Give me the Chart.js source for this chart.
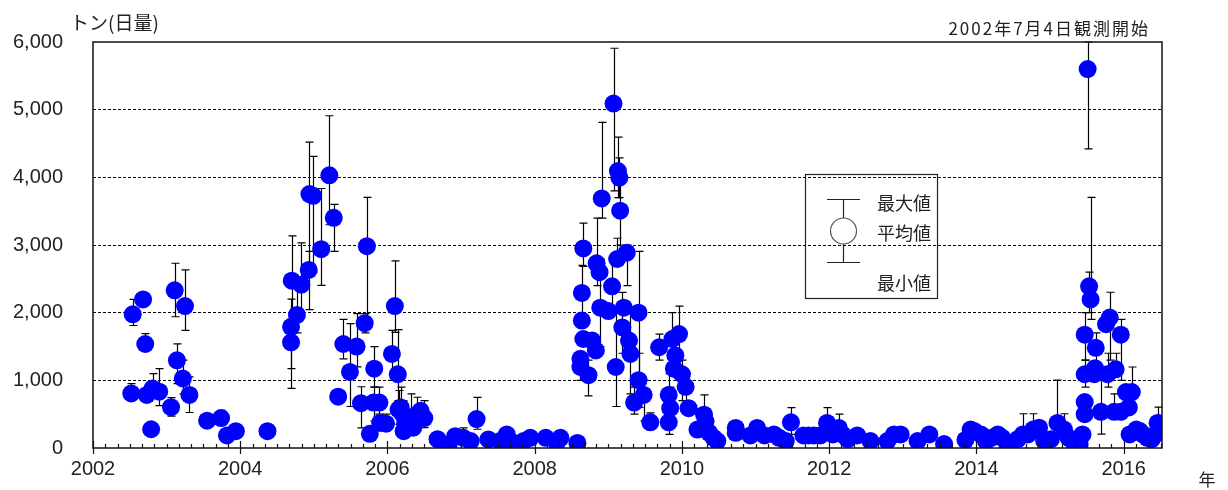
<!DOCTYPE html>
<html lang="ja">
<head>
<meta charset="UTF-8">
<title>二酸化硫黄放出量</title>
<script src="https://cdn.jsdelivr.net/npm/chart.js"></script>
<style>
  html, body { margin: 0; padding: 0; background: #fff; }
  #wrap { width: 1228px; height: 490px; position: relative; }
</style>
</head>
<body>
<div id="wrap"><canvas id="so2Chart"></canvas></div>
<script>
// [年, 平均値, 最小値, 最大値]  (null = バーなし)
const obs2002 = [
  [2002.52, 807, 720, 950], [2002.54, 1975, 1810, 2195], [2002.68, 2195, null, null],
  [2002.71, 1537, 1440, 1690], [2002.73, 784, null, null], [2002.79, 277, null, null],
  [2002.81, 880, 780, 1100], [2002.90, 832, 627, 1172], [2003.06, 603, 470, 745],
  [2003.11, 2331, 1940, 2730], [2003.14, 1295, 950, 1540], [2003.22, 1027, 800, 1300],
  [2003.25, 2097, 1737, 2632], [2003.31, 784, 525, 1051], [2003.55, 404, null, null],
  [2003.74, 443, 350, 555], [2003.82, 185, null, null], [2003.94, 248, null, null],
  [2004.37, 248, null, null]
];
const obs2004 = [
  [2004.69, 1562, 880, 1800], [2004.69, 1791, 1172, 2200], [2004.70, 2472, 1900, 3134],
  [2004.77, 1966, 1700, 2450], [2004.83, 2414, 2000, 3032], [2004.93, 2632, 2044, 2905],
  [2004.94, 3752, 2700, 4521], [2004.99, 3727, 2600, 4311], [2005.10, 2939, 2404, 3835],
  [2005.21, 4029, 3299, 4910], [2005.27, 3401, 2905, 3600], [2005.33, 759, null, null],
  [2005.40, 1537, 1318, 1902], [2005.49, 1124, 613, 1839], [2005.58, 1499, 1200, 1985],
  [2005.64, 662, 297, 905], [2005.69, 1844, 1700, 1985], [2005.72, 2983, 1900, 3703],
  [2005.76, 209, null, null], [2005.81, 672, 400, 900], [2005.82, 1172, 900, 1499],
  [2005.89, 672, 500, 900], [2005.90, 370, null, null], [2005.98, 360, 250, 500],
  [2006.06, 1391, 1000, 1738], [2006.10, 2097, 1708, 2764], [2006.14, 1090, 700, 1750],
  [2006.15, 569, 350, 850], [2006.18, 600, 400, 900], [2006.21, 496, 300, 700],
  [2006.22, 248, 150, 400], [2006.24, 370, null, null], [2006.28, 350, 200, 550],
  [2006.32, 443, 250, 800], [2006.35, 300, null, null], [2006.40, 496, 300, 750],
  [2006.45, 550, null, null], [2006.50, 443, 300, 700]
];
const obs2006 = [
  [2006.68, 131, null, null], [2006.83, 51, null, null], [2006.92, 175, null, null],
  [2007.03, 150, 80, 297], [2007.13, 102, null, null], [2007.21, 428, 277, 749],
  [2007.37, 127, null, null], [2007.53, 102, null, null], [2007.62, 200, 100, 300],
  [2007.67, 100, null, null], [2007.85, 102, null, null], [2007.94, 150, null, null],
  [2008.15, 150, null, null], [2008.30, 80, null, null], [2008.35, 150, null, null],
  [2008.58, 75, null, null]
];
const obs2008 = [
  [2008.62, 1318, null, null], [2008.62, 1197, 1000, 1400], [2008.64, 1883, null, null],
  [2008.64, 2292, 1800, 2700], [2008.66, 2949, 2682, 3324], [2008.66, 1611, null, null],
  [2008.73, 1076, 769, 1300], [2008.78, 1587, null, null], [2008.83, 1441, null, null],
  [2008.84, 2730, 2400, 3397], [2008.88, 2598, null, null], [2008.89, 2073, 1500, 2800],
  [2008.91, 3689, 3397, 4813], [2009.00, 2024, null, null], [2009.05, 2389, 2000, 2800],
  [2009.07, 5090, 3800, 5908], [2009.10, 1197, 613, 2000], [2009.12, 2793, null, 3100],
  [2009.13, 4092, 3700, 4594], [2009.15, 3995, 3700, 4289], [2009.16, 3508, 3000, 4000],
  [2009.19, 1781, 1400, 2300], [2009.21, 2073, null, null], [2009.25, 2886, 2400, 3000],
  [2009.28, 1587, null, null], [2009.30, 1391, 800, 2000], [2009.35, 672, 500, 900],
  [2009.41, 2000, 1100, 2905], [2009.41, 1003, 600, 1400], [2009.48, 784, 400, 1000],
  [2009.57, 380, 300, 520], [2009.69, 1489, 1300, 1683], [2009.82, 380, 200, 800],
  [2009.82, 784, 600, 1100], [2009.84, 589, 400, 900], [2009.87, 1611, 1100, 2000],
  [2009.89, 1172, null, null], [2009.91, 1368, null, null], [2009.96, 1683, 1000, 2097],
  [2010.00, 1090, 700, 1300], [2010.05, 905, 600, 1100], [2010.09, 589, null, null],
  [2010.21, 273, null, null], [2010.30, 492, 250, 784], [2010.32, 394, null, null],
  [2010.37, 224, null, null], [2010.43, 150, null, null], [2010.48, 102, null, null]
];
const obs2010 = [
  [2010.73, 224, null, null], [2010.73, 297, null, null], [2010.93, 185, null, null],
  [2011.02, 297, null, null], [2011.12, 185, null, null], [2011.25, 200, null, null],
  [2011.32, 150, null, null], [2011.41, 102, null, null], [2011.48, 380, 200, 598],
  [2011.65, 185, null, null], [2011.72, 185, null, null], [2011.79, 185, null, null],
  [2011.88, 185, null, null], [2011.97, 370, 250, 598], [2012.05, 200, null, null],
  [2012.13, 297, 200, 501], [2012.18, 200, null, null], [2012.25, 131, null, null],
  [2012.38, 185, null, null], [2012.56, 102, null, null], [2012.79, 102, null, null],
  [2012.88, 200, null, null], [2012.97, 200, null, null], [2013.20, 102, null, null],
  [2013.36, 200, null, null], [2013.56, 58, null, null]
];
const obs2014 = [
  [2013.85, 120, null, null], [2013.92, 273, null, null], [2013.97, 250, null, null],
  [2014.06, 200, null, null], [2014.13, 100, null, null], [2014.20, 150, null, null],
  [2014.29, 200, null, null], [2014.35, 150, null, null], [2014.42, 58, null, null],
  [2014.56, 131, null, null], [2014.63, 200, null, 506], [2014.70, 200, null, null],
  [2014.77, 273, null, 506], [2014.85, 300, null, null], [2014.92, 102, null, null],
  [2015.01, 131, null, null], [2015.10, 370, 150, 1003], [2015.19, 273, null, 506],
  [2015.25, 150, null, null], [2015.31, 102, null, null], [2015.40, 58, null, null],
  [2015.44, 200, null, null], [2015.47, 500, null, null], [2015.47, 679, null, null],
  [2015.47, 1090, 900, 1300], [2015.47, 1675, 1300, 2000], [2015.51, 5600, 4420, 6000],
  [2015.53, 2390, 2000, 2600], [2015.55, 2195, 1900, 3703], [2015.60, 1090, null, null],
  [2015.61, 1180, null, null], [2015.62, 1480, 1200, 1700], [2015.69, 535, 204, 1003],
  [2015.76, 1830, null, null], [2015.78, 1090, 900, 1400], [2015.81, 1927, 1300, 2302],
  [2015.87, 535, null, 800], [2015.89, 1163, null, 1400], [2015.96, 1675, 1000, 1900],
  [2015.96, 535, null, null], [2016.03, 827, null, null], [2016.07, 600, null, null],
  [2016.08, 200, null, null], [2016.11, 827, null, 1197], [2016.17, 273, null, null],
  [2016.22, 250, null, null], [2016.26, 200, null, null], [2016.32, 150, null, null],
  [2016.38, 131, null, null], [2016.43, 200, null, null], [2016.46, 370, null, 603]
];

const yearTicks = [2002, 2004, 2006, 2008, 2010, 2012, 2014, 2016];
const tonTicks = [0, 1000, 2000, 3000, 4000, 5000, 6000];

const allObs = [].concat(obs2002, obs2004, obs2006, obs2008, obs2010, obs2014);

const jpFont = '"Noto Sans CJK JP", sans-serif';

// 最大値・最小値のひげ
const errorBars = {
  id: 'errorBars',
  beforeDatasetsDraw(chart) {
    const { ctx, scales: { x, y } } = chart;
    ctx.save();
    ctx.strokeStyle = '#000';
    ctx.lineWidth = 1.2;
    allObs.forEach(r => {
      if (r[2] == null && r[3] == null) return;
      const px = Math.round(x.getPixelForValue(r[0])) + 0.5;
      const lo = y.getPixelForValue(r[2] != null ? r[2] : r[1]);
      const hi = y.getPixelForValue(r[3] != null ? r[3] : r[1]);
      ctx.beginPath();
      ctx.moveTo(px, lo);
      ctx.lineTo(px, hi);
      if (r[2] != null) { ctx.moveTo(px - 4, lo); ctx.lineTo(px + 4, lo); }
      if (r[3] != null) { ctx.moveTo(px - 4, hi); ctx.lineTo(px + 4, hi); }
      ctx.stroke();
    });
    ctx.restore();
  }
};

// 枠・目盛・注記・凡例
const frameAndNotes = {
  id: 'frameAndNotes',
  afterDraw(chart) {
    const { ctx, chartArea: a, scales: { x } } = chart;
    ctx.save();
    ctx.strokeStyle = '#111';
    ctx.lineWidth = 1.5;
    ctx.strokeRect(a.left, a.top, a.right - a.left, a.bottom - a.top);

    // 2か月ごとの目盛
    ctx.lineWidth = 1.2;
    ctx.beginPath();
    for (let i = 0; i <= 87; i++) {
      const v = 2002 + i / 6;
      const px = Math.round(x.getPixelForValue(v)) + 0.5;
      if (i % 12 === 0) {
        ctx.moveTo(px, a.bottom - 7);
        ctx.lineTo(px, a.bottom + 6);
      } else {
        ctx.moveTo(px, a.bottom - 4);
        ctx.lineTo(px, a.bottom);
      }
    }
    ctx.stroke();

    ctx.fillStyle = '#222';
    ctx.textBaseline = 'middle';
    ctx.font = '19px ' + jpFont;
    ctx.textAlign = 'left';
    ctx.fillText('トン(日量)', 70, 23);

    ctx.font = '17px ' + jpFont;
    ctx.letterSpacing = '2px';
    ctx.textAlign = 'right';
    ctx.fillText('2002年7月4日観測開始', 1150, 29);
    ctx.letterSpacing = '0px';

    ctx.font = '17px ' + jpFont;
    ctx.textAlign = 'center';
    ctx.fillText('年', 1207, 480);

    // 凡例
    ctx.lineWidth = 1.2;
    ctx.strokeStyle = '#222';
    ctx.strokeRect(805.5, 174.5, 132, 124);
    ctx.beginPath();
    ctx.moveTo(827, 199.5); ctx.lineTo(860, 199.5);
    ctx.moveTo(843.5, 199.5); ctx.lineTo(843.5, 262.5);
    ctx.moveTo(827, 262.5); ctx.lineTo(860, 262.5);
    ctx.stroke();
    ctx.beginPath();
    ctx.arc(843.5, 231, 13, 0, Math.PI * 2);
    ctx.fillStyle = '#fff';
    ctx.fill();
    ctx.strokeStyle = '#555';
    ctx.stroke();

    ctx.fillStyle = '#222';
    ctx.font = '18px ' + jpFont;
    ctx.textAlign = 'left';
    ctx.fillText('最大値', 877, 203);
    ctx.fillText('平均値', 877, 233);
    ctx.fillText('最小値', 877, 283);
    ctx.restore();
  }
};

new Chart(document.getElementById('so2Chart'), {
  type: 'scatter',
  data: {
    datasets: [{
      label: '平均値',
      data: allObs.map(r => ({ x: r[0], y: r[1] })),
      backgroundColor: '#0000ff',
      borderWidth: 0,
      pointRadius: 9,
      pointHoverRadius: 9
    }]
  },
  options: {
    responsive: true,
    maintainAspectRatio: false,
    animation: false,
    events: [],
    layout: { padding: { top: 41, right: 66, left: 0, bottom: 0 } },
    plugins: {
      legend: { display: false },
      tooltip: { enabled: false }
    },
    scales: {
      x: {
        type: 'linear',
        min: 2002,
        max: 2016.52,
        afterBuildTicks: s => { s.ticks = yearTicks.map(v => ({ value: v })); },
        afterFit: s => { s.height = 38; },
        grid: { display: false, drawTicks: false },
        border: { display: false },
        ticks: {
          padding: 9,
          color: '#222',
          autoSkip: false,
          maxRotation: 0,
          font: { family: '"Liberation Sans", Arial, sans-serif', size: 20 },
          callback: v => String(v)
        }
      },
      y: {
        min: 0,
        max: 6000,
        afterBuildTicks: s => { s.ticks = tonTicks.map(v => ({ value: v })); },
        afterFit: s => { s.width = 93; },
        grid: {
          drawTicks: false,
          lineWidth: 1,
          color: c => (c.tick && c.tick.value > 0 && c.tick.value < 6000) ? '#000' : 'rgba(0,0,0,0)'
        },
        border: { display: false, dash: [3, 2] },
        ticks: {
          padding: 30,
          color: '#222',
          font: { family: '"Liberation Sans", Arial, sans-serif', size: 20 },
          callback: v => v.toLocaleString('en-US')
        }
      }
    }
  },
  plugins: [errorBars, frameAndNotes]
});
</script>
</body>
</html>
